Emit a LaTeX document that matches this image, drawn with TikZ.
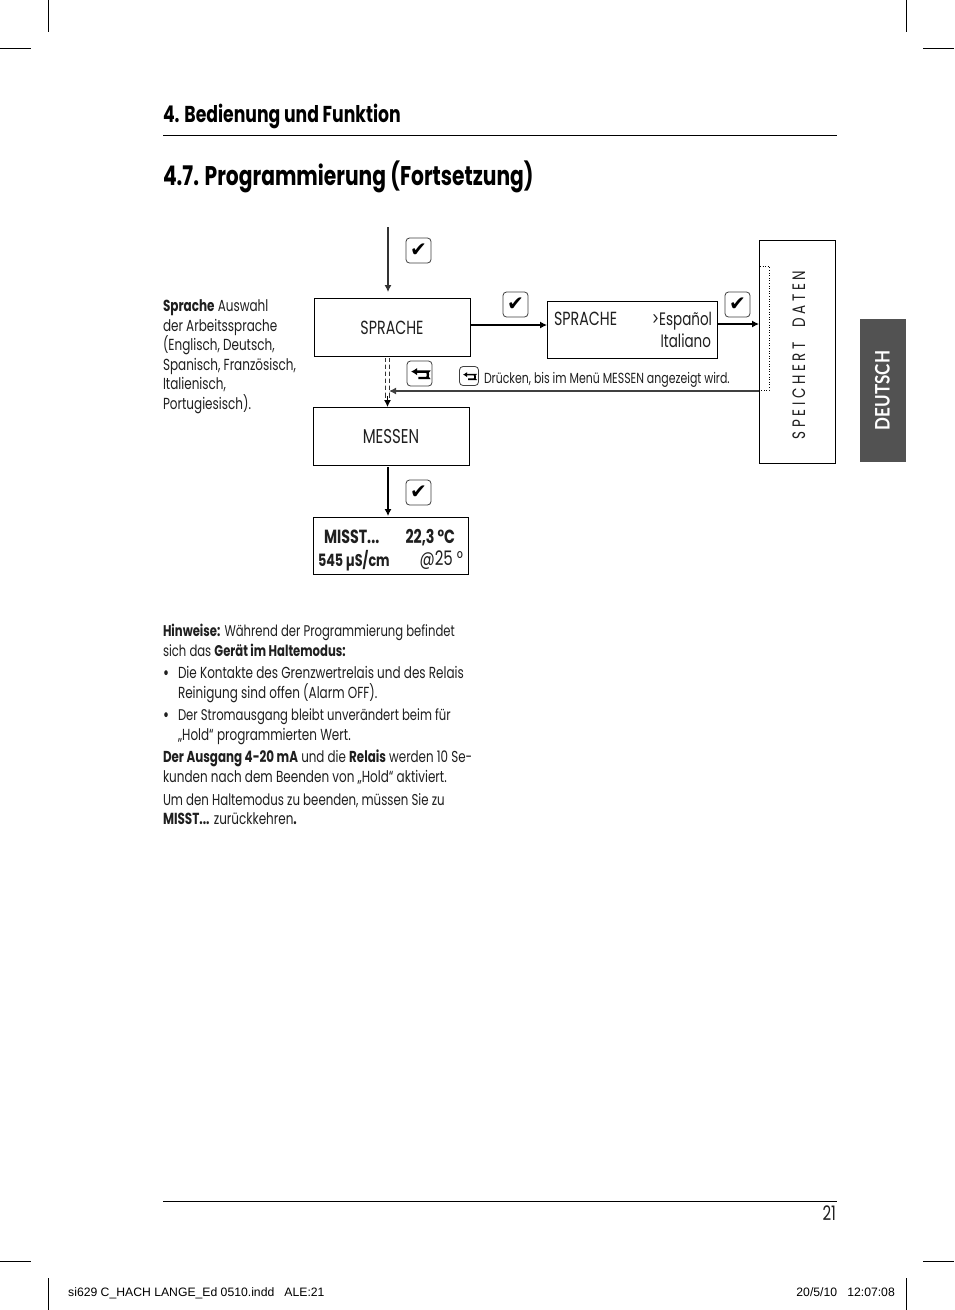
\documentclass[tikz,border=0pt]{standalone}
\usepackage{fontspec}
\setmainfont[FakeStretch=0.75]{Poppins}
\newfontfamily\markfont{DejaVu Sans}
\newfontfamily\slugfont{Liberation Sans}
\newfontfamily\tabfont[FakeStretch=0.85]{Lato}
\usetikzlibrary{arrows.meta}
\tikzset{
  tx/.style={anchor=base west,inner sep=0,outer sep=0,font=\fontsize{16}{19}\selectfont,text=black!88},
  txn/.style={tx,font=\fontsize{15.5}{19}\selectfont},
  txc/.style={tx,anchor=base,font=\fontsize{19}{22}\selectfont},
  boldtx/.style={tx,font=\fontsize{19}{22}\selectfont\bfseries},
  hrule/.style={line width=0.7pt,black},
  stepbox/.style={draw=black,line width=1pt,fill=white},
  arr/.style={line width=1.1pt,-{Latex[length=7pt,width=7pt]}},
  keybox/.style={draw=black!75,line width=0.8pt,rounded corners=3.5pt,minimum width=25pt,minimum height=25pt,inner sep=0,fill=white},
  crop/.style={line width=0.6pt,black},
}
\newcommand{\chk}{{\markfont\fontsize{20}{20}\selectfont ✔}}
\newcommand{\ret}{\tikz[baseline=-3pt,x=1pt,y=1pt]{\draw[line width=2.3pt,{Latex[length=6pt,width=7.5pt]}-] (-8.7,3) -- (5,3) arc[start angle=90,end angle=-90,radius=3.2] -- (-1.5,-3.4);}}
\begin{document}
\begin{tikzpicture}[x=1pt,y=-1pt]
\useasboundingbox (0,0) rectangle (954,1310);
\fill[white] (0,0) rectangle (954,1310);
% crop marks
\draw[crop] (48,0)--(48,32) (906,0)--(906,32) (0,48)--(31,48) (923,48)--(954,48);
\draw[crop] (48,1278)--(48,1310) (906,1278)--(906,1310) (0,1261)--(31,1261) (923,1261)--(954,1261);
% headings
\node[tx,font=\fontsize{23}{26}\selectfont\bfseries,text=black] (h1) at (163,122) {4. Bedienung und Funktion};
\draw[hrule] (163,135.5)--(837,135.5);
\node[tx,font=\fontsize{27}{30}\selectfont\bfseries,text=black] (h2) at (163,185) {4.7. Programmierung (Fortsetzung)};
% left text
\node[tx] (s1) at (163,311) {\textbf{Sprache} Auswahl};
\node[tx] (s2) at (163,331) {der Arbeitssprache};
\node[tx] (s3) at (163,350) {(Englisch, Deutsch,};
\node[tx] (s4) at (163,370) {Spanisch, Französisch,};
\node[tx] (s5) at (163,389) {Italienisch,};
\node[tx] (s6) at (163,409) {Portugiesisch).};
% boxes
\node[stepbox,minimum width=156pt,minimum height=58.5pt] (spr) at (392,327.5) {};
\node[txc] (sprt) at (392,334) {SPRACHE};
\node[stepbox,minimum width=156pt,minimum height=58pt] (mes) at (391,436) {};
\node[txc,font=\fontsize{20}{22}\selectfont] (mest) at (391,443) {MESSEN};
\node[stepbox,minimum width=155pt,minimum height=57pt] (mis) at (390.5,546) {};
\node[boldtx] (m1) at (324,543) {MISST...};
\node[boldtx,anchor=base east] (m2) at (455,543) {22,3 °C};
\node[tx,font=\fontsize{17}{20}\selectfont\bfseries] (m3) at (318,566) {545 µS/cm};
\node[tx,anchor=base east,font=\fontsize{20}{22}\selectfont] (m4) at (463,565) {@25 °};
\node[stepbox,minimum width=170pt,minimum height=57pt] (opt) at (632.5,330) {};
\node[txc,anchor=base west] (o1) at (554,325) {SPRACHE};
\node[tx,anchor=base east,font=\fontsize{18}{20}\selectfont] (o2) at (712,325) {>Español};
\node[tx,anchor=base east,font=\fontsize{18}{20}\selectfont] (o3) at (711,347) {Italiano};
\node[stepbox,minimum width=76pt,minimum height=223pt] (spe) at (797.5,352) {};
\node[tx,anchor=base,rotate=90,font=\addfontfeature{LetterSpace=20}\fontsize{18}{20}\selectfont] (spt) at (805,355) {SPEICHERT\ \ DATEN};
% dotted bracket inside
\coordinate (d1) at (760,266); \coordinate (d2) at (769,266); \coordinate (d3) at (769,390); \coordinate (d4) at (760,390);
\draw[dotted,line width=0.6pt] (d1)--(d2)--(d3)--(d4);
% arrows
\coordinate (topin) at (388,227);
\draw[arr,black!80] (topin)--(388,292);
\draw[arr] (spr.east|-0,325)--(opt.west|-0,325);
\draw[arr] (opt.east|-0,324)--(spe.west|-0,324);
\draw[arr,black] (388,467)--(388,516);
\draw[line width=1.5pt,black!80] (385.5,358)--(385.5,398) (389.5,358)--(389.5,398);
\fill[white] (384,362) rectangle (391,364.5) (384,369) rectangle (391,371.5) (384,376) rectangle (391,378.5) (384,383) rectangle (391,385.5) (384,390) rectangle (391,392.5);
\draw[-{Latex[length=7pt,width=7pt]},line width=1pt] (387.5,396)--(387.5,407);
\draw[arr,line width=1.4pt,black!75] (spe.west|-0,391)--(389,391);
% key boxes
\node[keybox] (k1) at (418.5,250.5) {\chk};
\node[keybox] (k2) at (515.5,304.5) {\chk};
\node[keybox] (k3) at (737.5,304.5) {\chk};
\node[keybox] (k4) at (419.5,373.5) {\ret};
\node[keybox] (k5) at (418.5,492.5) {\chk};
\node[keybox,minimum width=19pt,minimum height=19pt] (k6) at (469,376) {\scalebox{.72}{\ret}};
\node[tx,font=\fontsize{14.6}{16}\selectfont] (dr) at (484,383) {Drücken, bis im Menü MESSEN angezeigt wird.};
% notes
\node[txn] (n1) at (163,636) {\textbf{Hinweise:} Während der Programmierung befindet};
\node[txn] (n2) at (163,656) {sich das \textbf{Gerät im Haltemodus:}};
\node[tx] (n3a) at (163,678) {\textbf{•}};
\node[tx] (n3) at (178,678) {Die Kontakte des Grenzwertrelais und des Relais};
\node[tx] (n4) at (178,698) {Reinigung sind offen (Alarm OFF).};
\node[tx] (n5a) at (163,720) {\textbf{•}};
\node[txn] (n5) at (178,720) {Der Stromausgang bleibt unverändert beim für};
\node[tx] (n6) at (178,740) {„Hold“ programmierten Wert.};
\node[tx,font=\fontsize{15.85}{19}\selectfont] (n7) at (163,762) {\textbf{Der Ausgang 4-20 mA} und die \textbf{Relais} werden 10 Se-};
\node[tx] (n8) at (163,782) {kunden nach dem Beenden von „Hold“ aktiviert.};
\node[tx,font=\fontsize{15.7}{19}\selectfont] (n9) at (163,805) {Um den Haltemodus zu beenden, müssen Sie zu};
\node[tx] (n10) at (163,824) {\textbf{MISST...} zurückkehren\textbf{.}};
% side tab
\fill[black!68] (860,319) rectangle (906,462);
\node[anchor=base,rotate=90,inner sep=0,text=white,font=\tabfont\fontsize{20}{24}\selectfont\bfseries] (tab) at (889.5,390.5) {DEUTSCH};
% footer
\draw[hrule] (163,1201.5)--(837,1201.5);
\node[tx,anchor=base east,font=\fontsize{20}{22}\selectfont] (pg) at (836,1220.5) {21};
\node[anchor=base west,inner sep=0,font=\slugfont\fontsize{12.2}{14}\selectfont] (sl) at (68,1296) {si629 C\_HACH LANGE\_Ed 0510.indd\ \ \ ALE:21};
\node[anchor=base east,inner sep=0,font=\slugfont\fontsize{12.2}{14}\selectfont] (sr) at (895,1296) {20/5/10\ \ \ 12:07:08};
\end{tikzpicture}
\end{document}
